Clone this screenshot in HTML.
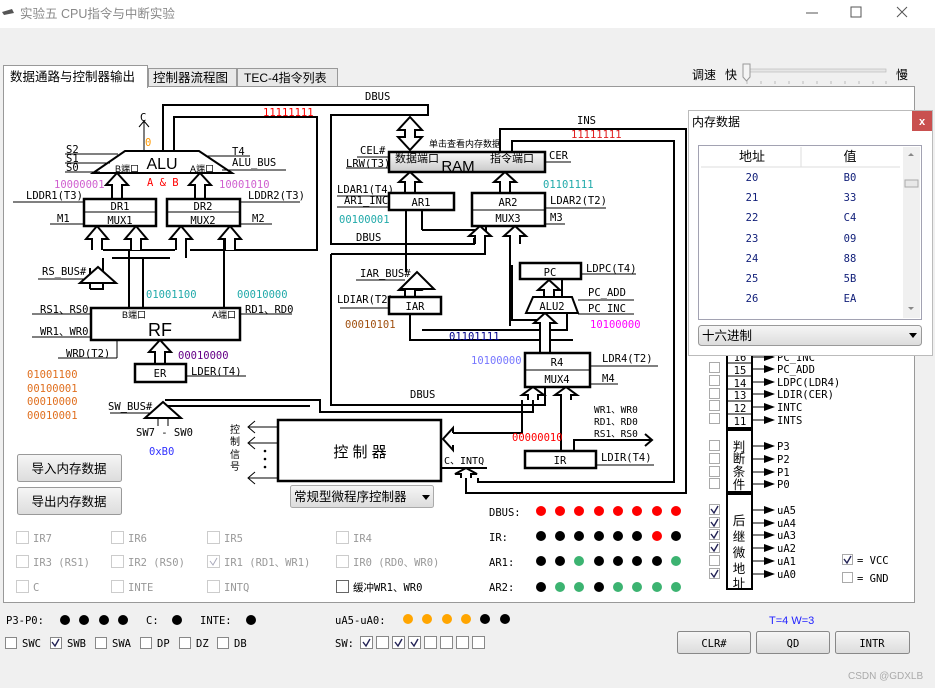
<!DOCTYPE html>
<html><head><meta charset="utf-8"><style>
html,body{margin:0;padding:0;width:935px;height:688px;overflow:hidden;background:#f0f0f0;font-family:"Liberation Sans","Noto Sans CJK SC",sans-serif}
svg{position:absolute;left:0;top:0}
.m{font-family:"DejaVu Sans Mono","Liberation Mono","Noto Sans CJK SC",monospace;font-size:10.5px}
.c{font-family:"Liberation Sans","Noto Sans CJK SC",sans-serif}
</style></head><body>
<svg width="935" height="688" viewBox="0 0 935 688" xmlns="http://www.w3.org/2000/svg">
<defs>
<linearGradient id="g1" x1="0" y1="0" x2="0" y2="1"><stop offset="0" stop-color="#fafafa"/><stop offset="1" stop-color="#c8c8c8"/></linearGradient>
<linearGradient id="g2" x1="0" y1="0" x2="0" y2="1"><stop offset="0" stop-color="#f6f6f6"/><stop offset="1" stop-color="#dcdcdc"/></linearGradient>
</defs>
<rect x="0" y="0" width="935" height="28" fill="#fff"/>
<path d="M2 12 L12 9 L14 13 L4 15Z" fill="#555"/>
<text x="20" y="18" class="c" font-size="12.5" fill="#888">实验五 CPU指令与中断实验</text>
<line x1="806" y1="13" x2="818" y2="13" stroke="#555"/>
<rect x="851" y="7" width="10" height="10" fill="none" stroke="#555"/>
<path d="M897 7 L907 17 M907 7 L897 17" stroke="#555"/>
<text x="692" y="79" class="c" font-size="12">调速</text>
<text x="725" y="79" class="c" font-size="12">快</text>
<text x="896" y="79" class="c" font-size="12">慢</text>
<rect x="745" y="69" width="141" height="3" fill="#e6e6e6" stroke="#bbb" stroke-width="0.7"/>
<path d="M743 64 H750 V77 L746.5 81 L743 77Z" fill="#f4f4f4" stroke="#999"/>
<g stroke="#bbb"><line x1="747" y1="81" x2="747" y2="84"/><line x1="761" y1="81" x2="761" y2="84"/><line x1="775" y1="81" x2="775" y2="84"/><line x1="789" y1="81" x2="789" y2="84"/><line x1="803" y1="81" x2="803" y2="84"/><line x1="817" y1="81" x2="817" y2="84"/><line x1="831" y1="81" x2="831" y2="84"/><line x1="845" y1="81" x2="845" y2="84"/><line x1="859" y1="81" x2="859" y2="84"/><line x1="873" y1="81" x2="873" y2="84"/><line x1="886" y1="81" x2="886" y2="84"/></g>
<rect x="3.5" y="86.5" width="911" height="516" fill="#fff" stroke="#999"/>
<rect x="148.5" y="68.5" width="88" height="18" fill="#e8e8e8" stroke="#999"/>
<rect x="237.5" y="68.5" width="100" height="18" fill="#e8e8e8" stroke="#999"/>
<rect x="3.5" y="65.5" width="144" height="22" fill="#fff" stroke="#999"/>
<line x1="4" y1="87" x2="147" y2="87" stroke="#fff" stroke-width="2"/>
<text x="10" y="81" class="c" font-size="12.5">数据通路与控制器输出</text>
<text x="153" y="82" class="c" font-size="12.5">控制器流程图</text>
<text x="244" y="82" class="c" font-size="12">TEC-4指令列表</text>

<g fill="none" stroke="#000" stroke-width="2">
<polyline points="163,151 163,105 428,105 428,115 331,115 331,244 474,244 474,238"/>
<polyline points="174,151 174,117 317,117 317,250 190,250"/>
<polyline points="103,250 175,250"/>
<polyline points="103,258 103,289 90,289"/>
<polyline points="112,258 170,258 M190,258 317,258 317,392 170,392"/>
<polyline points="143,258 143,308"/>
<polyline points="129,250 129,308"/>
<polyline points="186,250 186,258 M196,258 196,250"/>
<polyline points="224,240 224,308 M236,240 236,308"/>
<polyline points="90,289 90,268 M103,268 103,250"/>
<polyline points="165,400 320,400 320,412 533,412 533,387"/>
<polyline points="165,406 310,406"/>
<polyline points="331,254 331,405 545,405 545,387"/>
<polyline points="331,254 485,254 485,238"/>
<polyline points="406,210 406,272 M416,272 416,210"/>
<polyline points="422,210 422,230"/>
<polyline points="486,226 486,230 422,230"/>
<polyline points="422,330 567,330 567,313"/>
<polyline points="410,314 410,340 573,340"/>
<polyline points="510,238 510,326 M520,238 520,255 558,255 558,263 M531,238 531,248 546,248 546,263"/>
<polyline points="562,279 562,297 M556,279 556,297"/>
<polyline points="545,313 545,320 512,320 512,265"/>
<polyline points="545,353 545,313 M555,353 555,313"/>
<polyline points="500,152 500,129 686,129 686,493 466,493 466,478"/>
<polyline points="512,152 512,141 674,141 674,482 478,482 478,478"/>
<polyline points="561,451 561,400 M571,451 571,400"/>
<polyline points="574,451 574,440 652,440"/>
<polyline points="645,434 652,440 645,446"/>
<polyline points="453,433 522,433 522,400 M453,445 521,445 521,451"/>
<polyline points="441,468 487,468"/>
</g>
<g fill="#fff" stroke="#000" stroke-width="2">
<path d="M112 198 V185 H106 L117 173 L128 185 H122 V198"/>
<path d="M195 198 V185 H189 L200 173 L211 185 H205 V198"/>
<path d="M92 250 V239 H86 L97 226 L108 239 H102 V250"/>
<path d="M131 250 V239 H125 L136 226 L147 239 H141 V250"/>
<path d="M176 250 V239 H170 L181 226 L192 239 H186 V250"/>
<path d="M225 250 V239 H219 L230 226 L241 239 H235 V250"/>
<path d="M155 363 V352 H149 L160 340 L171 352 H165 V363"/>
<path d="M80 283 L98 267 L116 283Z"/>
<path d="M145 418 L163 402 L181 418Z"/>
<path d="M410 117 L422 130 H415 V137 H422 L410 150 L398 137 H405 V130 H398 Z"/>
<path d="M405 193 V182 H399 L410 172 L421 182 H415 V193"/>
<path d="M500 193 V182 H494 L505 172 L516 182 H510 V193"/>
<path d="M475 244 V236 H469 L480 226 L491 236 H485 V244"/>
<path d="M510 244 V236 H504 L515 226 L526 236 H520 V244"/>
<path d="M544 297 V290 H538 L549 280 L560 290 H554 V297"/>
<path d="M405 297 V290 H399 L410 280 L421 290 H415 V297"/>
<path d="M400 289 L417 272 L434 289Z"/>
<path d="M540 353 V323 H534 L545 313 L556 323 H550 V353"/>
<path d="M528 400 V395 H522 L533 387 L544 395 H538 V400"/>
<path d="M561 400 V395 H555 L566 387 L577 395 H571 V400"/>
<path d="M461 478 V474 H455 L466 468 L477 474 H471 V478"/>
<path d="M453 433 V428 L443 439 L453 450 V445"/>
</g>
<path d="M125 151 H199 L232 173 H93 Z" fill="#fff" stroke="#000" stroke-width="2"/>
<text x="162" y="169" text-anchor="middle" class="c" font-size="16">ALU</text>
<text x="115" y="172" class="c" font-size="9">B端口</text>
<text x="190" y="172" class="c" font-size="9">A端口</text>
<text x="147" y="186" class="m" fill="#f00">A &amp; B</text>
<text x="145" y="146" class="m" fill="#f90">0</text>
<path d="M144 150 V122 M139 127 L144 121 L149 127" stroke="#000" fill="none"/>
<text x="140" y="121" class="m">C</text>
<g class="m"><text x="66" y="153">S2</text><text x="66" y="162">S1</text><text x="66" y="171">S0</text>
<text x="232" y="155">T4</text><text x="232" y="166">ALU_BUS</text></g>
<g stroke="#000"><line x1="65" y1="154" x2="118" y2="154"/><line x1="65" y1="163" x2="110" y2="163"/><line x1="65" y1="172" x2="100" y2="172"/><line x1="205" y1="156" x2="250" y2="156"/><line x1="222" y1="170" x2="286" y2="170"/></g>
<text x="54" y="188" class="m" font-size="11" fill="#d060d0">10000001</text>
<text x="219" y="188" class="m" font-size="11" fill="#d060d0">10001010</text>
<text x="263" y="116" class="m" font-size="11" fill="#f00">11111111</text>
<g fill="#fff" stroke="#000" stroke-width="2.5"><rect x="84" y="199" width="72" height="27"/><rect x="167" y="199" width="73" height="27"/></g>
<g stroke="#000"><line x1="84" y1="212" x2="156" y2="212"/><line x1="167" y1="212" x2="240" y2="212"/>
<line x1="13" y1="202" x2="84" y2="202"/><line x1="240" y1="202" x2="300" y2="202"/><line x1="50" y1="224" x2="84" y2="224"/><line x1="240" y1="224" x2="272" y2="224"/></g>
<g class="m" text-anchor="middle"><text x="120" y="210">DR1</text><text x="120" y="224">MUX1</text><text x="203" y="210">DR2</text><text x="203" y="224">MUX2</text></g>
<g class="m"><text x="26" y="199">LDDR1(T3)</text><text x="248" y="199">LDDR2(T3)</text><text x="57" y="222">M1</text><text x="252" y="222">M2</text>
<text x="42" y="275">RS_BUS#</text></g>
<line x1="38" y1="279" x2="85" y2="279" stroke="#000"/>
<rect x="91" y="308" width="149" height="32" fill="#fff" stroke="#000" stroke-width="2.5"/>
<text x="160" y="336" text-anchor="middle" class="c" font-size="18">RF</text>
<text x="122" y="318" class="c" font-size="9">B端口</text><text x="212" y="318" class="c" font-size="9">A端口</text>
<g class="m"><text x="40" y="313">RS1、RS0</text><text x="40" y="335">WR1、WR0</text><text x="245" y="313">RD1、RD0</text><text x="66" y="357">WRD(T2)</text><text x="191" y="375">LDER(T4)</text><text x="108" y="410">SW_BUS#</text><text x="136" y="436">SW7 - SW0</text></g>
<g stroke="#000"><line x1="32" y1="314" x2="91" y2="314"/><line x1="32" y1="337" x2="91" y2="337"/><line x1="240" y1="314" x2="292" y2="314"/><line x1="58" y1="358" x2="117" y2="358"/><line x1="117" y1="358" x2="117" y2="340"/><line x1="186" y1="376" x2="246" y2="376"/><line x1="110" y1="413" x2="150" y2="413"/><line x1="158" y1="418" x2="158" y2="426"/><line x1="168" y1="418" x2="168" y2="426"/></g>
<g class="m" font-size="11"><text x="146" y="298" fill="#2aa">01001100</text><text x="237" y="298" fill="#2aa">00010000</text><text x="178" y="359" fill="#608">00010000</text>
<text x="27" y="378" fill="#e07020">01001100</text><text x="27" y="392" fill="#e07020">00100001</text><text x="27" y="405" fill="#e07020">00010000</text><text x="27" y="419" fill="#e07020">00010001</text>
<text x="149" y="455" fill="#33f">0xB0</text></g>
<rect x="135" y="364" width="51" height="18" fill="#fff" stroke="#000" stroke-width="2.5"/>
<text x="160" y="377" text-anchor="middle" class="m" font-size="12">ER</text>
<rect x="389" y="152" width="156" height="20" fill="url(#g1)" stroke="#000" stroke-width="2.5"/>
<text x="395" y="162" class="c" font-size="11">数据端口</text><text x="490" y="162" class="c" font-size="11">指令端口</text>
<text x="458" y="171" text-anchor="middle" class="c" font-size="15">RAM</text>
<text x="429" y="147" class="c" font-size="9">单击查看内存数据</text>
<g class="m"><text x="360" y="154">CEL#</text><text x="346" y="167">LRW(T3)</text><text x="549" y="159">CER</text><text x="365" y="100">DBUS</text><text x="577" y="124">INS</text>
<text x="337" y="193">LDAR1(T4)</text><text x="344" y="204">AR1_INC</text><text x="356" y="241">DBUS</text><text x="550" y="204">LDAR2(T2)</text><text x="550" y="221">M3</text>
<text x="360" y="277">IAR_BUS#</text><text x="337" y="303">LDIAR(T2)</text><text x="586" y="272">LDPC(T4)</text><text x="588" y="296">PC_ADD</text><text x="588" y="312">PC_INC</text>
<text x="602" y="362">LDR4(T2)</text><text x="602" y="382">M4</text><text x="410" y="398">DBUS</text>
<text x="594" y="413" font-size="9.5">WR1、WR0</text><text x="594" y="425" font-size="9.5">RD1、RD0</text><text x="594" y="437" font-size="9.5">RS1、RS0</text>
<text x="601" y="461">LDIR(T4)</text><text x="444" y="464" font-size="10">C、INTQ</text></g>
<g stroke="#000"><line x1="357" y1="157" x2="389" y2="157"/><line x1="346" y1="168" x2="389" y2="168"/><line x1="545" y1="162" x2="571" y2="162"/>
<line x1="337" y1="196" x2="389" y2="196"/><line x1="337" y1="207" x2="389" y2="207"/><line x1="545" y1="208" x2="606" y2="208"/><line x1="545" y1="224" x2="565" y2="224"/>
<line x1="356" y1="280" x2="405" y2="280"/><line x1="340" y1="308" x2="389" y2="308"/><line x1="581" y1="274" x2="636" y2="274"/><line x1="578" y1="300" x2="634" y2="300"/><line x1="578" y1="314" x2="634" y2="314"/>
<line x1="590" y1="366" x2="658" y2="366"/><line x1="590" y1="384" x2="618" y2="384"/><line x1="596" y1="465" x2="654" y2="465"/></g>
<g class="m" font-size="11"><text x="571" y="138" fill="#e02020">11111111</text><text x="543" y="188" fill="#2aa">01101111</text><text x="339" y="223" fill="#2aa">00100001</text>
<text x="345" y="328" fill="#a05010">00010101</text><text x="449" y="340" fill="#008">01101111</text><text x="590" y="328" fill="#f0f">10100000</text><text x="471" y="364" fill="#77f">10100000</text><text x="512" y="441" fill="#f00">00000010</text></g>
<g fill="#fff" stroke="#000" stroke-width="2.5"><rect x="389" y="193" width="65" height="17"/><rect x="472" y="193" width="73" height="33"/><rect x="389" y="297" width="52" height="17"/><rect x="520" y="263" width="61" height="16"/><rect x="525" y="353" width="65" height="34"/><rect x="525" y="451" width="71" height="17"/></g>
<path d="M533 297 H572 L578 313 H526Z" fill="#fff" stroke="#000" stroke-width="2"/>
<g stroke="#000"><line x1="472" y1="210" x2="545" y2="210"/><line x1="525" y1="370" x2="590" y2="370"/></g>
<g class="m" font-size="12" text-anchor="middle"><text x="421" y="206">AR1</text><text x="508" y="206">AR2</text><text x="508" y="222">MUX3</text><text x="415" y="310">IAR</text><text x="550" y="276">PC</text><text x="552" y="310">ALU2</text><text x="557" y="366">R4</text><text x="557" y="383">MUX4</text><text x="560" y="464">IR</text></g>
<rect x="278" y="420" width="163" height="61" fill="#fff" stroke="#000" stroke-width="2.5"/>
<text x="360" y="457" text-anchor="middle" class="c" font-size="15">控 制 器</text>
<g class="c" font-size="10"><text x="230" y="433">控</text><text x="230" y="445">制</text><text x="230" y="458">信</text><text x="230" y="470">号</text></g>
<g stroke="#000" fill="none"><path d="M278 427 H248 M255 421 L248 427 L255 433"/><path d="M278 443 H248 M255 437 L248 443 L255 449"/><path d="M278 478 H248 M255 472 L248 478 L255 484"/></g>
<g fill="#000"><circle cx="265" cy="451" r="1.3"/><circle cx="265" cy="459" r="1.3"/><circle cx="265" cy="467" r="1.3"/></g>
<rect x="290.5" y="485.5" width="143" height="22" rx="2" fill="url(#g2)" stroke="#aaa"/>
<text x="294" y="501" class="c" font-size="12.5">常规型微程序控制器</text>
<path d="M422 495 L430 495 L426 500Z" fill="#000"/>
<rect x="17.5" y="454.5" width="104" height="27" rx="2" fill="url(#g2)" stroke="#999"/>
<rect x="17.5" y="487.5" width="104" height="27" rx="2" fill="url(#g2)" stroke="#999"/>
<text x="69" y="473" text-anchor="middle" class="c" font-size="12.5">导入内存数据</text>
<text x="69" y="506" text-anchor="middle" class="c" font-size="12.5">导出内存数据</text>
<g fill="#fff" stroke="#ccc"><rect x="16.5" y="531.5" width="12" height="12"/><rect x="111.5" y="531.5" width="12" height="12"/><rect x="207.5" y="531.5" width="12" height="12"/><rect x="336.5" y="531.5" width="12" height="12"/>
<rect x="16.5" y="555.5" width="12" height="12"/><rect x="111.5" y="555.5" width="12" height="12"/><rect x="207.5" y="555.5" width="12" height="12"/><rect x="336.5" y="555.5" width="12" height="12"/>
<rect x="16.5" y="580.5" width="12" height="12"/><rect x="111.5" y="580.5" width="12" height="12"/><rect x="207.5" y="580.5" width="12" height="12"/></g>
<rect x="336.5" y="580.5" width="12" height="12" fill="#fff" stroke="#666"/>
<path d="M210 561 L213 565 L217 558" stroke="#aab" fill="none"/>
<g class="m" font-size="11.5" fill="#999"><text x="33" y="542">IR7</text><text x="128" y="542">IR6</text><text x="224" y="542">IR5</text><text x="353" y="542">IR4</text>
<text x="33" y="566">IR3 (RS1)</text><text x="128" y="566">IR2 (RS0)</text><text x="224" y="566">IR1 (RD1、WR1)</text><text x="353" y="566">IR0 (RD0、WR0)</text>
<text x="33" y="591">C</text><text x="128" y="591">INTE</text><text x="224" y="591">INTQ</text></g>
<text x="353" y="591" class="m" font-size="11.5">缓冲WR1、WR0</text>
<g class="m" font-size="11"><text x="489" y="516">DBUS:</text><text x="489" y="541">IR:</text><text x="489" y="566">AR1:</text><text x="489" y="591">AR2:</text></g>
<g>
<circle cx="541" cy="511" r="5" fill="#f00"/><circle cx="560" cy="511" r="5" fill="#f00"/><circle cx="579" cy="511" r="5" fill="#f00"/><circle cx="599" cy="511" r="5" fill="#f00"/><circle cx="618" cy="511" r="5" fill="#f00"/><circle cx="637" cy="511" r="5" fill="#f00"/><circle cx="657" cy="511" r="5" fill="#f00"/><circle cx="676" cy="511" r="5" fill="#f00"/>
<circle cx="541" cy="536" r="5"/><circle cx="560" cy="536" r="5"/><circle cx="579" cy="536" r="5"/><circle cx="599" cy="536" r="5"/><circle cx="618" cy="536" r="5"/><circle cx="637" cy="536" r="5"/><circle cx="657" cy="536" r="5" fill="#f00"/><circle cx="676" cy="536" r="5"/>
<circle cx="541" cy="561" r="5"/><circle cx="560" cy="561" r="5"/><circle cx="579" cy="561" r="5" fill="#3cb371"/><circle cx="599" cy="561" r="5"/><circle cx="618" cy="561" r="5"/><circle cx="637" cy="561" r="5"/><circle cx="657" cy="561" r="5"/><circle cx="676" cy="561" r="5" fill="#3cb371"/>
<circle cx="541" cy="587" r="5"/><circle cx="560" cy="587" r="5" fill="#3cb371"/><circle cx="579" cy="587" r="5" fill="#3cb371"/><circle cx="599" cy="587" r="5"/><circle cx="618" cy="587" r="5" fill="#3cb371"/><circle cx="637" cy="587" r="5" fill="#3cb371"/><circle cx="657" cy="587" r="5" fill="#3cb371"/><circle cx="676" cy="587" r="5" fill="#3cb371"/>
</g>
<g fill="#fff" stroke="#000" stroke-width="2"><rect x="727" y="350" width="25" height="78"/><rect x="727" y="430" width="25" height="62"/><rect x="727" y="494" width="25" height="95"/></g>
<g stroke="#000"><line x1="727" y1="363" x2="752" y2="363"/><line x1="727" y1="376" x2="752" y2="376"/><line x1="727" y1="389" x2="752" y2="389"/><line x1="727" y1="401" x2="752" y2="401"/><line x1="727" y1="414" x2="752" y2="414"/></g>
<g class="m" font-size="11" text-anchor="middle"><text x="740" y="361">16</text><text x="740" y="374">15</text><text x="740" y="387">14</text><text x="740" y="399">13</text><text x="740" y="412">12</text><text x="740" y="425">11</text></g>
<g class="c" font-size="12.5" text-anchor="middle"><text x="739" y="451">判</text><text x="739" y="463">断</text><text x="739" y="476">条</text><text x="739" y="489">件</text>
<text x="739" y="525">后</text><text x="739" y="541">继</text><text x="739" y="557">微</text><text x="739" y="573">地</text><text x="739" y="588">址</text></g>
<g stroke="#000"><line x1="752" y1="357" x2="765" y2="357"/><line x1="752" y1="369" x2="765" y2="369"/><line x1="752" y1="382" x2="765" y2="382"/><line x1="752" y1="394" x2="765" y2="394"/><line x1="752" y1="407" x2="765" y2="407"/><line x1="752" y1="420" x2="765" y2="420"/>
<line x1="752" y1="446" x2="765" y2="446"/><line x1="752" y1="459" x2="765" y2="459"/><line x1="752" y1="472" x2="765" y2="472"/><line x1="752" y1="484" x2="765" y2="484"/>
<line x1="752" y1="510" x2="765" y2="510"/><line x1="752" y1="523" x2="765" y2="523"/><line x1="752" y1="535" x2="765" y2="535"/><line x1="752" y1="548" x2="765" y2="548"/><line x1="752" y1="561" x2="765" y2="561"/><line x1="752" y1="574" x2="765" y2="574"/></g>
<g fill="#000"><path d="M764 353 L775 357 L764 361Z"/><path d="M764 365 L775 369 L764 373Z"/><path d="M764 378 L775 382 L764 386Z"/><path d="M764 390 L775 394 L764 398Z"/><path d="M764 403 L775 407 L764 411Z"/><path d="M764 416 L775 420 L764 424Z"/>
<path d="M764 442 L775 446 L764 450Z"/><path d="M764 455 L775 459 L764 463Z"/><path d="M764 468 L775 472 L764 476Z"/><path d="M764 480 L775 484 L764 488Z"/>
<path d="M764 506 L775 510 L764 514Z"/><path d="M764 519 L775 523 L764 527Z"/><path d="M764 531 L775 535 L764 539Z"/><path d="M764 544 L775 548 L764 552Z"/><path d="M764 557 L775 561 L764 565Z"/><path d="M764 570 L775 574 L764 578Z"/></g>
<g class="m" font-size="11"><text x="777" y="361">PC_INC</text><text x="777" y="373">PC_ADD</text><text x="777" y="386">LDPC(LDR4)</text><text x="777" y="398">LDIR(CER)</text><text x="777" y="411">INTC</text><text x="777" y="424">INTS</text>
<text x="777" y="450">P3</text><text x="777" y="463">P2</text><text x="777" y="476">P1</text><text x="777" y="488">P0</text>
<text x="777" y="514">uA5</text><text x="777" y="527">uA4</text><text x="777" y="539">uA3</text><text x="777" y="552">uA2</text><text x="777" y="565">uA1</text><text x="777" y="578">uA0</text>
<text x="857" y="564">=  VCC</text><text x="857" y="582">=  GND</text></g>
<g fill="#fff" stroke="#aaa"><rect x="709.5" y="362.5" width="10" height="10"/><rect x="709.5" y="375.5" width="10" height="10"/><rect x="709.5" y="388.5" width="10" height="10"/><rect x="709.5" y="400.5" width="10" height="10"/><rect x="709.5" y="413.5" width="10" height="10"/>
<rect x="709.5" y="440.5" width="10" height="10"/><rect x="709.5" y="453.5" width="10" height="10"/><rect x="709.5" y="466.5" width="10" height="10"/><rect x="709.5" y="478.5" width="10" height="10"/>
<rect x="709.5" y="504.5" width="10" height="10"/><rect x="709.5" y="517.5" width="10" height="10"/><rect x="709.5" y="529.5" width="10" height="10"/><rect x="709.5" y="542.5" width="10" height="10"/><rect x="709.5" y="555.5" width="10" height="10"/><rect x="709.5" y="568.5" width="10" height="10"/>
<rect x="842.5" y="554.5" width="10" height="10"/><rect x="842.5" y="572.5" width="10" height="10"/></g>
<g stroke="#225" stroke-width="1.4" fill="none"><path d="M711 509 L714 513 L718 506"/><path d="M711 522 L714 526 L718 519"/><path d="M711 534 L714 538 L718 531"/><path d="M711 547 L714 551 L718 544"/><path d="M711 573 L714 577 L718 570"/><path d="M844 559 L847 563 L851 556"/></g>
<g class="m" font-size="11"><text x="6" y="624">P3-P0:</text><text x="146" y="624">C:</text><text x="200" y="624">INTE:</text><text x="335" y="624">uA5-uA0:</text><text x="335" y="647">SW:</text>
<text x="22" y="647">SWC</text><text x="67" y="647">SWB</text><text x="112" y="647">SWA</text><text x="157" y="647">DP</text><text x="196" y="647">DZ</text><text x="234" y="647">DB</text></g>
<g><circle cx="65" cy="620" r="5"/><circle cx="84" cy="620" r="5"/><circle cx="104" cy="620" r="5"/><circle cx="123" cy="620" r="5"/><circle cx="177" cy="620" r="5"/><circle cx="251" cy="620" r="5"/>
<circle cx="408" cy="619" r="5" fill="#ffa500"/><circle cx="427" cy="619" r="5" fill="#ffa500"/><circle cx="447" cy="619" r="5" fill="#ffa500"/><circle cx="466" cy="619" r="5" fill="#ffa500"/><circle cx="485" cy="619" r="5"/><circle cx="505" cy="619" r="5"/></g>
<g fill="#fff" stroke="#888"><rect x="5.5" y="637.5" width="11" height="11"/><rect x="50.5" y="637.5" width="11" height="11"/><rect x="95.5" y="637.5" width="11" height="11"/><rect x="140.5" y="637.5" width="11" height="11"/><rect x="179.5" y="637.5" width="11" height="11"/><rect x="217.5" y="637.5" width="11" height="11"/>
<rect x="360.5" y="636.5" width="12" height="12"/><rect x="376.5" y="636.5" width="12" height="12"/><rect x="392.5" y="636.5" width="12" height="12"/><rect x="408.5" y="636.5" width="12" height="12"/><rect x="424.5" y="636.5" width="12" height="12"/><rect x="440.5" y="636.5" width="12" height="12"/><rect x="456.5" y="636.5" width="12" height="12"/><rect x="472.5" y="636.5" width="12" height="12"/></g>
<g stroke="#225" stroke-width="1.4" fill="none"><path d="M52 642 L55 646 L59 639"/><path d="M363 642 L366 646 L370 639"/><path d="M395 642 L398 646 L402 639"/><path d="M411 642 L414 646 L418 639"/></g>
<text x="769" y="624" class="c" font-size="11" fill="#22f">T=4  W=3</text>
<g fill="url(#g2)" stroke="#888"><rect x="677.5" y="631.5" width="73" height="22" rx="2"/><rect x="756.5" y="631.5" width="73" height="22" rx="2"/><rect x="835.5" y="631.5" width="74" height="22" rx="2"/></g>
<g class="m" font-size="11" text-anchor="middle"><text x="714" y="647">CLR#</text><text x="793" y="647">QD</text><text x="872" y="647">INTR</text></g>
<text x="848" y="679" class="c" font-size="10" fill="#aaa">CSDN @GDXLB</text>
<rect x="688.5" y="110.5" width="244" height="245" fill="#fff" stroke="#bbb"/>
<rect x="912" y="111" width="20" height="20" fill="#c9504f"/>
<text x="922" y="125" text-anchor="middle" class="c" font-size="11" font-weight="bold" fill="#fff">x</text>
<text x="692" y="126" class="c" font-size="12">内存数据</text>
<rect x="698.5" y="145.5" width="223" height="174" fill="#fff" stroke="#446" stroke-dasharray="1,1"/>
<rect x="903" y="147" width="17" height="171" fill="#f0f0f0"/>
<rect x="905" y="180" width="13" height="7" fill="#e8e8e8" stroke="#aaa"/>
<path d="M908 156 L911 153 L914 156Z M908 307 L911 310 L914 307Z" fill="#888"/>
<line x1="701" y1="167" x2="900" y2="167" stroke="#ddd"/><line x1="801" y1="147" x2="801" y2="167" stroke="#ddd"/>
<text x="752" y="161" text-anchor="middle" class="c" font-size="13">地址</text><text x="850" y="161" text-anchor="middle" class="c" font-size="13">值</text>
<g class="m" font-size="11.5" fill="#12207a" text-anchor="middle">
<text x="752" y="181">20</text><text x="850" y="181">B0</text><text x="752" y="201">21</text><text x="850" y="201">33</text><text x="752" y="221">22</text><text x="850" y="221">C4</text><text x="752" y="242">23</text><text x="850" y="242">09</text><text x="752" y="262">24</text><text x="850" y="262">88</text><text x="752" y="282">25</text><text x="850" y="282">5B</text><text x="752" y="302">26</text><text x="850" y="302">EA</text></g>
<rect x="698.5" y="325.5" width="223" height="20" rx="3" fill="url(#g2)" stroke="#999"/>
<text x="702" y="340" class="c" font-size="12.5">十六进制</text>
<path d="M909 333 L917 333 L913 338Z" fill="#000"/>
</svg>
</body></html>
